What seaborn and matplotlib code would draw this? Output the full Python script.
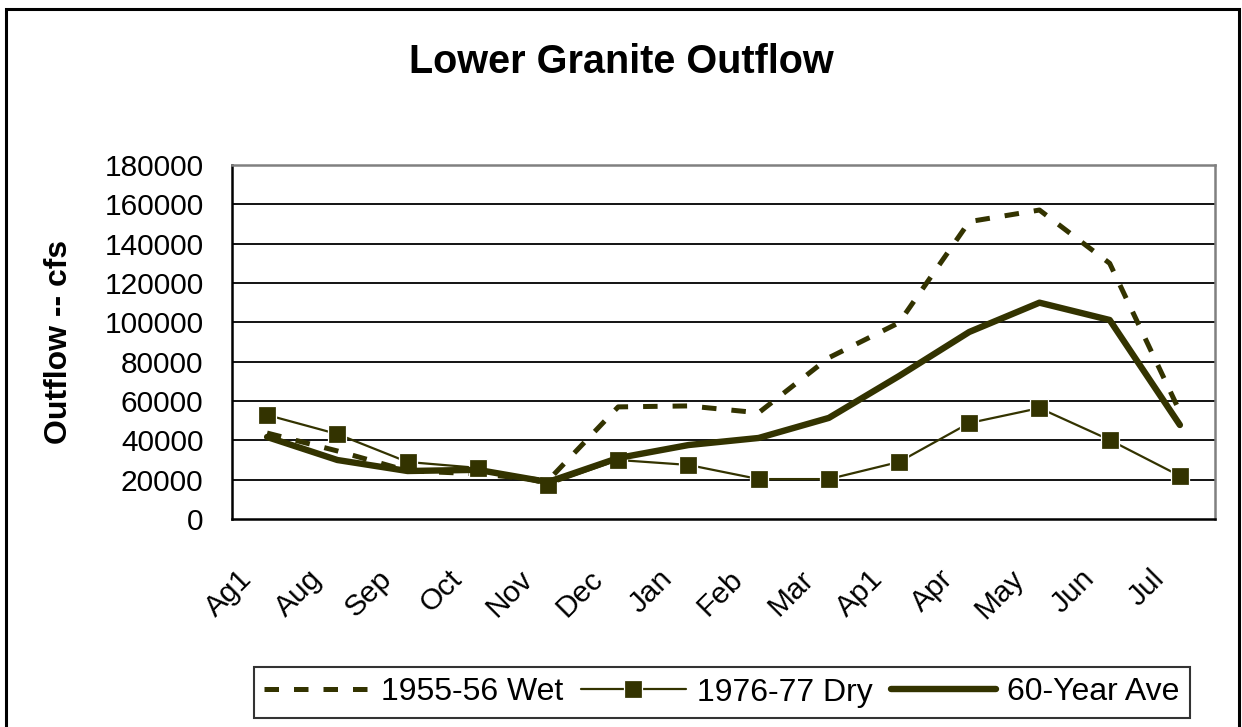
import numpy as np
import pandas as pd
import matplotlib
matplotlib.use("Agg")
import matplotlib.pyplot as plt
import matplotlib.transforms as mtransforms
from matplotlib.patches import Rectangle
import seaborn as sns

# chart values
months = ["Ag1", "Aug", "Sep", "Oct", "Nov", "Dec", "Jan", "Feb", "Mar", "Ap1", "Apr", "May", "Jun", "Jul"]
wet_1955 = [43700, 34600, 24500, 23000, 19500, 57000, 57500, 54000, 82000, 99800, 151200, 157100, 130000, 54500]
dry_1976 = [52900, 43200, 29000, 26000, 17300, 30000, 27500, 20300, 20300, 29000, 48800, 56400, 40200, 21900]
ave_60yr = [41700, 30000, 24400, 25000, 18800, 31000, 37600, 41200, 51400, 72700, 95100, 110000, 101200, 47800]
y_ticks = [0, 20000, 40000, 60000, 80000, 100000, 120000, 140000, 160000, 180000]

olive = "#333300"

sns.set_style("white")
plt.rcParams["font.family"] = ["Liberation Sans", "DejaVu Sans"]
plt.rcParams.update({"text.color": "black", "axes.labelcolor": "black",
                     "xtick.color": "black", "ytick.color": "black"})

df = pd.DataFrame({"month": months, "wet": wet_1955, "dry": dry_1976, "ave": ave_60yr})
df["pos"] = np.arange(len(months))

fig = plt.figure(figsize=(12.42, 7.27), dpi=100)
ax = fig.add_axes([232 / 1242, 1 - 519 / 727, (1215 - 232) / 1242, (519 - 165) / 727])

for yv in y_ticks[1:-1]:
    ax.axhline(yv, color="black", lw=1.3, zorder=1)

sns.lineplot(data=df, x="pos", y="wet", ax=ax, color=olive, lw=3.6,
             dashes=False, label="1955-56 Wet", zorder=3)
ax.lines[-1].set_dashes((2.9, 3.0))
ax.lines[-1].set_dash_capstyle("butt")
sns.lineplot(data=df, x="pos", y="dry", ax=ax, color=olive, lw=1.6,
             marker="s", markersize=13.5, markerfacecolor=olive,
             markeredgecolor="white", markeredgewidth=0.9, label="1976-77 Dry", zorder=4)
sns.lineplot(data=df, x="pos", y="ave", ax=ax, color=olive, lw=4.6,
             label="60-Year Ave", zorder=5)

ax.set_xlim(-0.5, len(months) - 0.5)
ax.set_ylim(0, 180000)
ax.set_yticks(y_ticks)
ax.set_yticklabels([str(v) for v in y_ticks])
ax.set_xticks(df["pos"])
ax.set_xticklabels(months, rotation=45, ha="right", va="center", rotation_mode="anchor")
ax.set_xticks(np.arange(len(months) + 1) - 0.5, minor=True)
ax.tick_params(axis="x", which="major", length=0, pad=40, labelsize=21.5)
ax.tick_params(axis="x", which="minor", length=7, width=1.5, direction="out", color="black")
ax.tick_params(axis="y", direction="inout", length=13, width=1.5, pad=14, labelsize=21.5, color="black")
ax.set_xlabel("")
ax.set_ylabel("Outflow -- cfs", fontsize=23, fontweight="bold")
ax.yaxis.set_label_coords(-(232 - 74) / 983, 0.5)

offset = mtransforms.ScaledTranslation(-20 / 100, 0, fig.dpi_scale_trans)
for lbl in ax.get_xticklabels():
    lbl.set_transform(lbl.get_transform() + offset)

for side in ["left", "bottom"]:
    ax.spines[side].set_color("black")
    ax.spines[side].set_linewidth(1.8)
for side in ["top", "right"]:
    ax.spines[side].set_color("#808080")
    ax.spines[side].set_linewidth(1.8)

ax.get_legend().remove()
handles, labels = ax.get_legend_handles_labels()
leg = fig.legend(handles, labels, loc="center", bbox_to_anchor=(722 / 1242, 1 - 692.5 / 727),
                 ncol=3, fontsize=23, frameon=True, fancybox=False, edgecolor="black",
                 handlelength=3.3, handletextpad=0.35, columnspacing=0.55, borderpad=0.33,
                 borderaxespad=0)
leg.get_frame().set_linewidth(1.5)

fig.text(621 / 1242, 1 - 62 / 727, "Lower Granite Outflow", ha="center", va="center",
         fontsize=28.5, fontweight="bold")

fig.patches.append(Rectangle((6 / 1242, -0.02), (1239 - 6) / 1242, 1.02 - 9 / 727,
                             transform=fig.transFigure, fill=False, lw=2.2, edgecolor="black"))

fig.savefig("out.png", dpi=100)
